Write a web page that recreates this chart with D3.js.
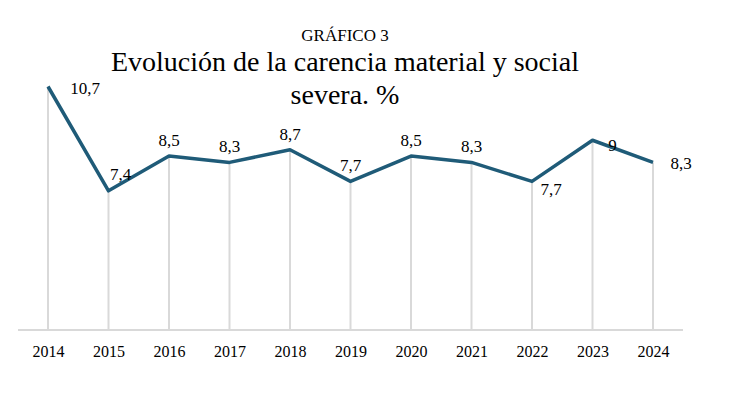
<!DOCTYPE html>
<html><head><meta charset="utf-8">
<script src="https://cdn.jsdelivr.net/npm/d3@7"></script>
<style>body{margin:0;background:#fff}</style>
</head><body>
<svg width="735" height="410"></svg>
<script>
var years = ["2014","2015","2016","2017","2018","2019","2020","2021","2022","2023","2024"];
var values = [10.7, 7.4, 8.5, 8.3, 8.7, 7.7, 8.5, 8.3, 7.7, 9, 8.3];
var labels = ["10,7","7,4","8,5","8,3","8,7","7,7","8,5","8,3","7,7","9","8,3"];

var FONT = "'Liberation Serif', 'Times New Roman', Times, 'DejaVu Serif', serif";
var svg = d3.select("svg").style("font-family", FONT);

var x = d3.scalePoint().domain(years).range([48, 653]);
var y = d3.scaleLinear().domain([3, 10.7]).range([330, 86.5]);

// titulo
svg.append("text").attr("x", 345).attr("y", 41).attr("text-anchor", "middle").style("font-family", FONT).style("font-size", "17px").text("GRÁFICO 3");
svg.append("text").attr("x", 345).attr("y", 71).attr("text-anchor", "middle").style("font-family", FONT).style("font-size", "28px").text("Evolución de la carencia material y social");
svg.append("text").attr("x", 345).attr("y", 104).attr("text-anchor", "middle").style("font-family", FONT).style("font-size", "28px").text("severa. %");

// lineas verticales
svg.selectAll(".drop").data(values).enter().append("line")
	.attr("x1", function(d, i) { return x(years[i]); })
	.attr("x2", function(d, i) { return x(years[i]); })
	.attr("y1", function(d) { return y(d); })
	.attr("y2", y(3))
	.attr("stroke", "#d9d9d9").attr("stroke-width", 2);

// eje x
var ax = svg.append("g").attr("transform", "translate(0," + y(3) + ")")
	.call(d3.axisBottom(x).tickSize(0).tickPadding(16));
ax.attr("font-family", null);
ax.select(".domain").remove();
ax.selectAll("text").style("font-size", "16px").style("font-family", FONT).attr("fill", "#000");
svg.append("line").attr("x1", 18).attr("x2", 683).attr("y1", y(3)).attr("y2", y(3)).attr("stroke", "#d9d9d9").attr("stroke-width", 2);

// linea
var line = d3.line().x(function(d, i) { return x(years[i]); }).y(function(d) { return y(d); });
svg.append("path").datum(values).attr("d", line).attr("fill", "none")
	.attr("stroke", "#1f5b78").attr("stroke-width", 3.5).attr("stroke-linejoin", "round");

// etiquetas
function offset(i) {
	if (i == 0) return [37, 7];
	if (i == 1) return [12, -11];
	if (i == 8) return [19, 14];
	if (i == 9) return [20, 11];
	if (i == 10) return [28, 7];
	return [0, -10];
}
svg.selectAll(".lbl").data(values).enter().append("text")
	.attr("x", function(d, i) { return x(years[i]) + offset(i)[0]; })
	.attr("y", function(d, i) { return y(d) + offset(i)[1]; })
	.attr("text-anchor", "middle").style("font-family", FONT).style("font-size", "17px")
	.text(function(d, i) { return labels[i]; });
</script>
</body></html>
